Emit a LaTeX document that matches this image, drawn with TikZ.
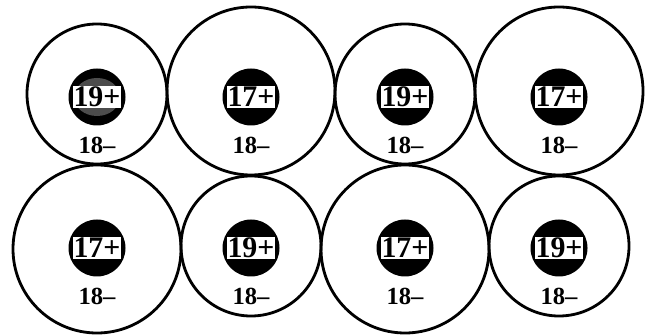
\documentclass[tikz,border=0pt]{standalone}
\usepackage{fontspec}
\setmainfont{Liberation Serif}[BoldFont={Liberation Serif Bold}]
\usetikzlibrary{positioning}

\begin{document}
\begin{tikzpicture}[
  line cap=round, line join=round,
  ring/.style={circle, draw=black, line width=1.6pt, inner sep=0pt},
  core/.style={circle, fill=black, minimum size=1.14cm, inner sep=0pt},
  charge/.style={fill=white, inner sep=0.5pt, font=\bfseries\fontsize{17}{18}\selectfont},
  shell/.style={inner sep=0pt, font=\bfseries\fontsize{14}{15}\selectfont},
]
\path[use as bounding box] (0,0) rectangle (13,6.7);

% Spheres
\foreach \nm/\cx/\cy/\cd/\ky/\z/\sh in {
    a/1.94/4.82/2.80/4.76/19/black!70, b/5.02/4.88/3.36/4.76/17/black,
    c/8.10/4.82/2.80/4.76/19/black,    d/11.18/4.88/3.36/4.76/17/black,
    e/1.94/1.72/3.36/1.74/17/black,    f/5.02/1.78/2.80/1.74/19/black,
    g/8.10/1.72/3.36/1.74/17/black,    h/11.18/1.78/2.80/1.74/19/black} {
  \node[ring, minimum size=\cd cm] (ring-\nm) at (\cx,\cy) {};
  \node[core] (core-\nm) at (\cx,\ky) {};
  \fill[\sh] (core-\nm.center) ellipse (0.46 and 0.38);
  \node[charge] (ion-\nm) at (core-\nm) {\z+};
  \node[shell, below=0.22cm of core-\nm] (el-\nm) {18--};
}

\end{tikzpicture}
\end{document}
